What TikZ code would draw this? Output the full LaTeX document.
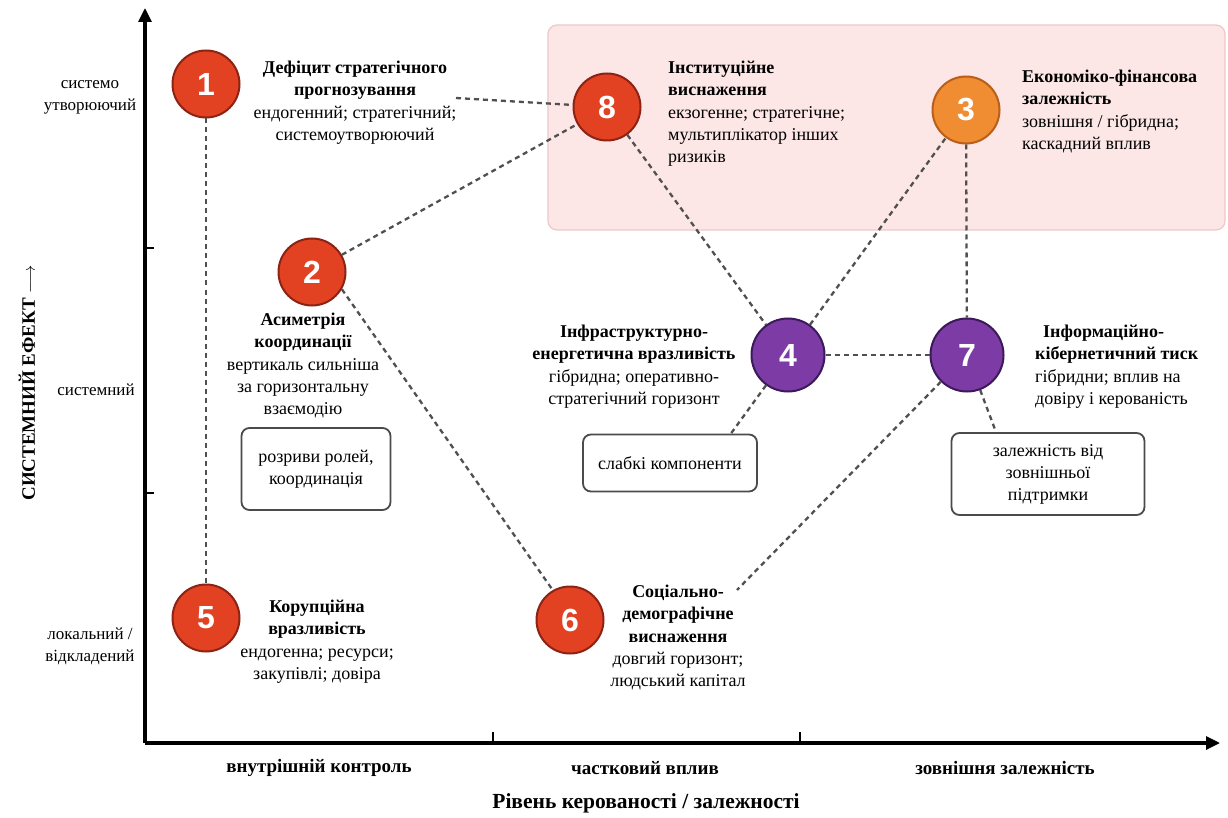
\documentclass[tikz,border=0pt]{standalone}
\usepackage{fontspec}
\setmainfont{Liberation Serif}
\newfontfamily\numfont{Liberation Sans}
\usetikzlibrary{arrows.meta}
\definecolor{cred}{RGB}{226,66,34}
\definecolor{credd}{RGB}{140,35,20}
\definecolor{corg}{RGB}{240,140,50}
\definecolor{corgd}{RGB}{185,95,25}
\definecolor{cpur}{RGB}{125,60,165}
\definecolor{cpurd}{RGB}{60,25,90}
\definecolor{cpink}{RGB}{252,230,230}
\definecolor{cpinkd}{RGB}{238,200,200}
\definecolor{cgray}{RGB}{80,80,80}
\definecolor{cbox}{RGB}{75,75,75}
\begin{document}
\begin{tikzpicture}[x=1pt,y=-1pt,
  circ/.style={circle, minimum size=67pt, inner sep=0pt, line width=2pt,
    font=\numfont\bfseries\fontsize{32}{32}\selectfont, text=white},
  redc/.style={circ, fill=cred, draw=credd},
  orgc/.style={circ, fill=corg, draw=corgd},
  purc/.style={circ, fill=cpur, draw=cpurd, minimum size=73pt},
  lbl/.style={font=\fontsize{18}{22.3}\selectfont, inner sep=0pt, align=center},
  lbll/.style={lbl, align=left},
  ylbl/.style={font=\fontsize{17}{22}\selectfont, inner sep=0pt, align=center},
  xlbl/.style={font=\bfseries\fontsize{19}{22}\selectfont, inner sep=0pt},
  conn/.style={draw=cgray, line width=2.3pt, dash pattern=on 5pt off 4pt},
  bx/.style={draw=cbox, line width=1.8pt, rounded corners=8pt, align=center,
    inner sep=0pt, font=\fontsize{18}{22}\selectfont},
  axis/.style={line width=3.2pt, -{Triangle[length=14pt,width=13pt]}},
  tick/.style={line width=2.4pt}
]
\useasboundingbox (0,0) rectangle (1228,818);
\fill[white] (0,0) rectangle (1228,818);

% pink region
\draw[fill=cpink, draw=cpinkd, line width=1.2pt, rounded corners=9pt] (548,25) rectangle (1225,230);

% axes
\coordinate (O) at (145,743);
\coordinate (Ytop) at (145,8);
\coordinate (Xend) at (1220,743);
\draw[axis] (O) -- (Ytop);
\draw[axis] (O) -- (Xend);
\coordinate (ty1) at (145,248); \coordinate (ty1e) at (154,248);
\coordinate (ty2) at (145,493); \coordinate (ty2e) at (154,493);
\coordinate (tx1) at (493,743); \coordinate (tx1e) at (493,732);
\coordinate (tx2) at (800,743); \coordinate (tx2e) at (800,732);
\draw[tick] (ty1) -- (ty1e);
\draw[tick] (ty2) -- (ty2e);
\draw[tick] (tx1) -- (tx1e);
\draw[tick] (tx2) -- (tx2e);

% axis labels
\node[ylbl] (ya) at (90,97) {системо\\утворюючий};
\node[ylbl] (yb) at (96,390) {системний};
\node[ylbl] (yc) at (90,646) {локальний /\\відкладений};
\node[font=\bfseries\fontsize{19}{21}\selectfont, rotate=90, inner sep=0pt] (yt) at (27,383) {СИСТЕМНИЙ ЕФЕКТ $\longrightarrow$};
\node[xlbl] (xa) at (319,768) {внутрішній контроль};
\node[xlbl] (xb) at (645,768) {частковий вплив};
\node[xlbl] (xc) at (1005,768) {зовнішня залежність};
\node[font=\bfseries\fontsize{21.5}{24}\selectfont, inner sep=0pt] (xt) at (646,803) {Рівень керованості / залежності};

% circles
\node[redc] (n1) at (206,84) {1};
\node[redc] (n8) at (607,107) {8};
\node[orgc] (n3) at (966,110) {3};
\node[redc] (n2) at (312,272) {2};
\node[purc] (n4) at (788,355) {4};
\node[purc] (n7) at (967,355) {7};
\node[redc] (n5) at (206,618) {5};
\node[redc] (n6) at (570,620) {6};

% labels
\node[lbl, anchor=north] (t1) at (355,61) {\textbf{Дефіцит стратегічного}\\\textbf{прогнозування}\\ендогенний; стратегічний;\\системоутворюючий};
\node[lbll, anchor=north west] (t8) at (668,61) {\textbf{Інституційне}\\\textbf{виснаження}\\екзогенне; стратегічне;\\мультиплікатор інших\\ризиків};
\node[lbll, anchor=north west] (t3) at (1022,70) {\textbf{Економіко-фінансова}\\\textbf{залежність}\\зовнішня / гібридна;\\каскадний вплив};
\node[lbl, anchor=north] (t2) at (303,313) {\textbf{Асиметрія}\\\textbf{координації}\\вертикаль сильніша\\за горизонтальну\\взаємодію};
\node[lbl, anchor=north] (t4) at (634,325) {\textbf{Інфраструктурно-}\\\textbf{енергетична вразливість}\\гібридна; оперативно-\\стратегічний горизонт};
\node[lbll, anchor=north west] (t7) at (1035,325) {\hspace*{8pt}\textbf{Інформаційно-}\\\textbf{кібернетичний тиск}\\гібридни; вплив на\\довіру і керованість};
\node[lbl, anchor=north] (t5) at (317,600) {\textbf{Корупційна}\\\textbf{вразливість}\\ендогенна; ресурси;\\закупівлі; довіра};
\node[lbl, anchor=north] (t6) at (678,585) {\textbf{Соціально-}\\\textbf{демографічне}\\\textbf{виснаження}\\довгий горизонт;\\людський капітал};

% boxes
\node[bx, minimum width=149pt, minimum height=82pt] (b2) at (316,469) {розриви ролей,\\координація};
\node[bx, minimum width=174pt, minimum height=57pt] (b4) at (670,463) {слабкі компоненти};
\node[bx, minimum width=193pt, minimum height=82pt] (b7) at (1048,474) {залежність від\\зовнішньої\\підтримки};

% connectors
\coordinate (c1) at (456,98);
\coordinate (c6) at (737,590);
\draw[conn] (n1) -- (n5);
\draw[conn] (c1) -- (n8);
\draw[conn] (n2.30) -- (n8.210);
\draw[conn] (n2.-30) -- (n6.120);
\draw[conn] (n8) -- (n4);
\draw[conn] (n4) -- (n3);
\draw[conn] (n3) -- (n7);
\draw[conn] (n4) -- (n7);
\draw[conn] (n4) -- ([xshift=-27pt]b4.north east);
\draw[conn] (n7) -- (c6);
\draw[conn] (n7) -- ([xshift=-52pt]b7.north);
\end{tikzpicture}
\end{document}
